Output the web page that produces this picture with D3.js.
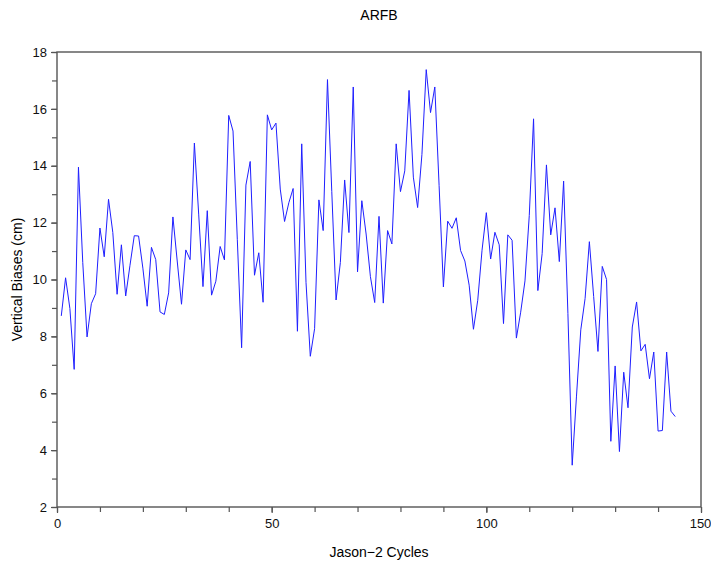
<!DOCTYPE html>
<html>
<head>
<meta charset="utf-8">
<script src="https://cdn.jsdelivr.net/npm/d3@7"></script>
<style>
  body { margin: 0; background: #fff; }
  text { font-family: "Liberation Sans", Arial, sans-serif; }
</style>
</head>
<body>
<div id="chart"></div>
<script>
// Jason-2 cycle numbers
var cycles = [1,2,3,4,5,6,7,8,9,10,11,12,13,14,15,16,17,18,19,20,
  21,22,23,24,25,26,27,28,29,30,31,32,33,34,35,36,37,38,39,40,
  41,42,43,44,45,46,47,48,49,50,51,52,53,54,55,56,57,58,59,60,
  61,62,63,64,65,66,67,68,69,70,71,72,73,74,75,76,77,78,79,80,
  81,82,83,84,85,86,87,88,89,90,91,92,93,94,95,96,97,98,99,100,
  101,102,103,104,105,106,107,108,109,110,111,112,113,114,115,116,117,118,119,120,
  121,122,123,124,125,126,127,128,129,130,131,132,133,134,135,136,137,138,139,140,
  141,142,143,144];

// vertical bias per cycle (cm)
var biases = [8.72,10.06,8.98,6.84,13.95,10.6,7.98,9.15,9.5,11.81,
  10.8,12.82,11.65,9.48,11.22,9.42,10.5,11.54,11.53,10.4,
  9.06,11.13,10.7,8.86,8.77,9.53,12.2,10.65,9.13,11.04,
  10.7,14.8,12.3,9.75,12.42,9.45,9.94,11.16,10.69,15.77,
  15.22,11.4,7.6,13.32,14.15,10.15,10.94,9.2,15.79,15.26,
  15.5,13.18,12.04,12.7,13.2,8.18,14.77,9.9,7.3,8.27,
  12.8,11.72,17.03,13.1,9.28,10.6,13.5,11.65,16.77,10.27,
  12.77,11.6,10.1,9.19,12.22,9.17,11.72,11.25,14.77,13.09,
  13.82,16.65,13.6,12.53,14.4,17.38,15.87,16.77,13.3,9.74,
  12.05,11.8,12.17,11.02,10.65,9.8,8.25,9.27,11.03,12.35,
  10.72,11.66,11.22,8.45,11.57,11.38,7.94,8.85,9.95,12.25,
  15.65,9.61,10.91,14.03,11.57,12.52,10.63,13.46,8.8,3.47,
  5.9,8.23,9.33,11.33,9.4,7.47,10.46,10.0,4.31,6.96,
  3.95,6.74,5.49,8.33,9.21,7.49,7.72,6.51,7.45,4.67,
  4.69,7.45,5.37,5.18];

var xTickLabels = [0, 50, 100, 150];
var yTickLabels = [2, 4, 6, 8, 10, 12, 14, 16, 18];

var data = cycles.map(function(c, i){ return {cycle: c, bias: biases[i]}; });

var margin = {top: 52, right: 10, bottom: 57, left: 57},
    width = 644,
    height = 455;

var svg = d3.select("#chart")
  .append("svg")
    .attr("width", 711)
    .attr("height", 564);

var g = svg.append("g")
    .attr("transform", "translate(" + margin.left + "," + margin.top + ")");

var x = d3.scaleLinear().domain([0, 150]).range([0, width]);
var y = d3.scaleLinear().domain([2, 18]).range([height, 0]);

var axisColor = "#555";

// minor ticks (every 10 cycles / every 1 cm)
g.append("g")
  .attr("transform", "translate(0," + height + ")")
  .call(d3.axisBottom(x).tickValues(d3.range(0, 151, 10)).tickSize(5).tickFormat(""))
  .call(function(a){ a.select(".domain").remove(); });
g.append("g")
  .call(d3.axisLeft(y).tickValues(d3.range(2, 19, 1)).tickSize(5).tickFormat(""))
  .call(function(a){ a.select(".domain").remove(); });

// labelled ticks
var xAxis = g.append("g")
  .attr("transform", "translate(0," + height + ")")
  .call(d3.axisBottom(x).tickValues(xTickLabels).tickSize(6).tickPadding(6).tickFormat(d3.format("d")));
var yAxis = g.append("g")
  .call(d3.axisLeft(y).tickValues(yTickLabels).tickSize(6).tickPadding(4).tickFormat(d3.format("d")));

g.selectAll(".tick line").attr("stroke", axisColor).attr("stroke-width", 1.2);
g.selectAll(".domain").remove();
g.selectAll(".tick text")
  .attr("fill", "#111")
  .style("font-size", "13px")
  .style("font-family", "Liberation Sans, Arial, sans-serif");
// keep the last x label inside the window
xAxis.selectAll(".tick text").filter(function(d){ return d === 150; }).attr("dx", "-1px");

// frame
g.append("rect")
  .attr("width", width)
  .attr("height", height)
  .attr("fill", "none")
  .attr("stroke", axisColor)
  .attr("stroke-width", 1.4);

// the series
g.append("path")
  .datum(data)
  .attr("fill", "none")
  .attr("stroke", "#1f1fff")
  .attr("stroke-width", 1)
  .attr("d", d3.line()
    .x(function(d){ return x(d.cycle); })
    .y(function(d){ return y(d.bias); })
  );

// title and axis titles
svg.append("text")
  .attr("x", margin.left + width / 2)
  .attr("y", 20)
  .attr("text-anchor", "middle")
  .style("font-size", "14px")
  .text("ARFB");

svg.append("text")
  .attr("x", margin.left + width / 2)
  .attr("y", 557)
  .attr("text-anchor", "middle")
  .style("font-size", "14px")
  .text("Jason\u22122 Cycles");

svg.append("text")
  .attr("transform", "translate(22," + (margin.top + height / 2) + ") rotate(-90)")
  .attr("text-anchor", "middle")
  .style("font-size", "14px")
  .text("Vertical Biases (cm)");
</script>
</body>
</html>
